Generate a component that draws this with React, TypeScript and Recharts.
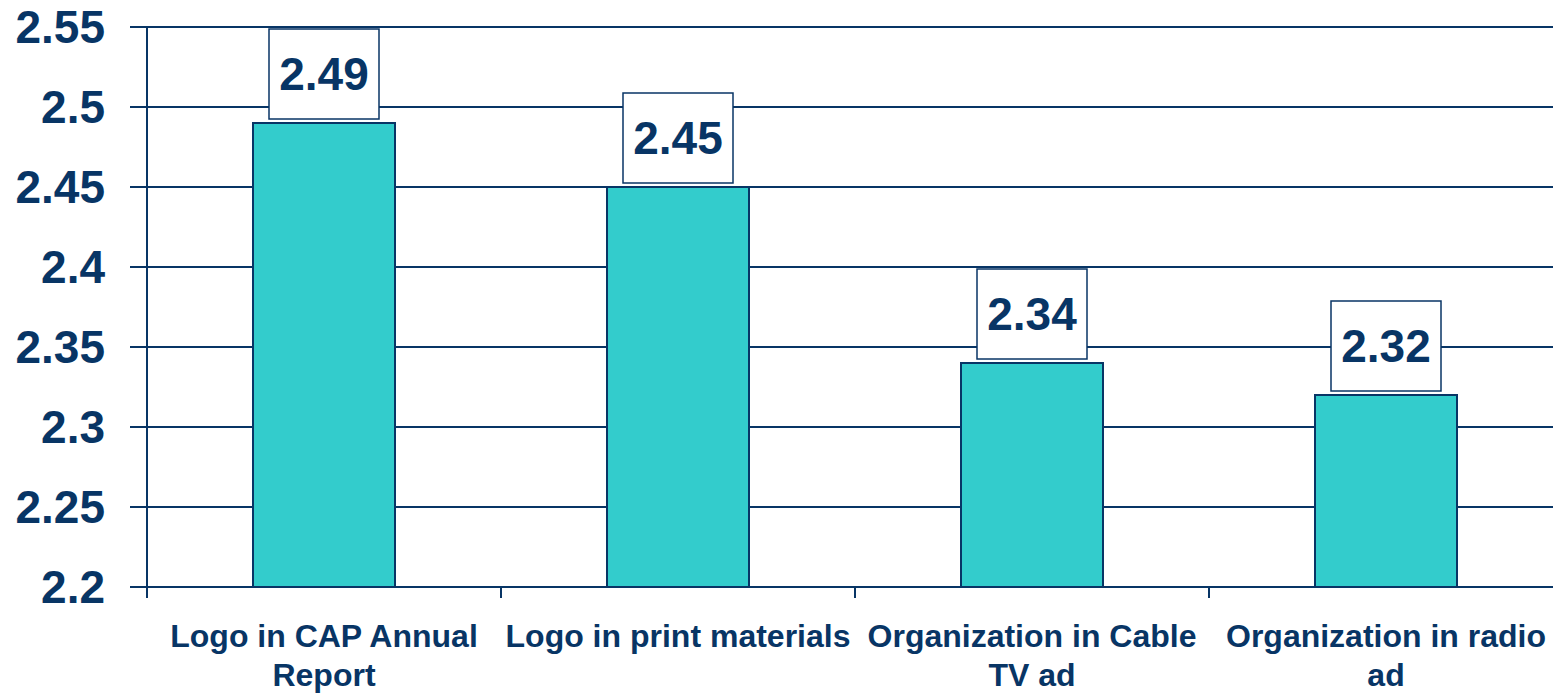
import { BarChart, Bar, XAxis, YAxis, CartesianGrid, LabelList } from 'recharts'

const categories = [
  'Logo in CAP Annual Report',
  'Logo in print materials',
  'Organization in Cable TV ad',
  'Organization in radio ad'
]
const tickLines = [
  ['Logo in CAP Annual', 'Report'],
  ['Logo in print materials'],
  ['Organization in Cable', 'TV ad'],
  ['Organization in radio', 'ad']
]
const scores = [2.49, 2.45, 2.34, 2.32]
const yTicks = [2.2, 2.25, 2.3, 2.35, 2.4, 2.45, 2.5, 2.55]

const NAVY = '#083565'
const TEAL = '#33CCCC'
const FONT = '"Liberation Sans", Arial, sans-serif'

const data = categories.map((name, i) => ({ name, value: scores[i] }))

const CategoryTick = (props: any) => {
  const { x, y, index, width, visibleTicksCount } = props
  const band = width && visibleTicksCount ? width / visibleTicksCount : 354
  const lines = tickLines[index] || [props.payload.value]
  const left = x - band / 2
  return (
    <g>
      <line x1={left} x2={left} y1={y} y2={y + 11} stroke={NAVY} strokeWidth={2} />
      {index === categories.length - 1 && (
        <line x1={x + band / 2} x2={x + band / 2} y1={y} y2={y + 11} stroke={NAVY} strokeWidth={2} />
      )}
      {lines.map((line: string, i: number) => (
        <text
          key={i}
          x={x}
          y={y + 60 + i * 39}
          textAnchor="middle"
          fill={NAVY}
          fontFamily={FONT}
          fontWeight="bold"
          fontSize={32}
        >
          {line}
        </text>
      ))}
    </g>
  )
}

const ValueBox = (props: any) => {
  const { x, y, width, value } = props
  const cx = x + width / 2
  return (
    <g>
      <rect x={cx - 55} y={y - 94} width={110} height={90} fill="#fff" stroke={NAVY} strokeWidth={1.5} />
      <text
        x={cx}
        y={y - 49}
        textAnchor="middle"
        dominantBaseline="central"
        fill={NAVY}
        fontFamily={FONT}
        fontWeight="bold"
        fontSize={46}
      >
        {value}
      </text>
    </g>
  )
}

export default function App() {
  return (
    <div style={{ position: 'fixed', left: 0, top: 0, width: 1553, height: 694, overflow: 'hidden', background: '#fff' }}>
      <BarChart width={1600} height={694} data={data} margin={{ top: 27, right: 37, bottom: 0, left: 0 }}>
        <CartesianGrid vertical={false} stroke={NAVY} strokeWidth={2} />
        <XAxis
          dataKey="name"
          height={107}
          axisLine={{ stroke: NAVY, strokeWidth: 2 }}
          tickLine={false}
          tickSize={0}
          tickMargin={0}
          interval={0}
          tick={<CategoryTick />}
        />
        <YAxis
          width={147}
          domain={[2.2, 2.55]}
          ticks={yTicks}
          allowDataOverflow
          axisLine={{ stroke: NAVY, strokeWidth: 2 }}
          tickLine={{ stroke: NAVY, strokeWidth: 2 }}
          tickSize={17}
          tickMargin={25}
          tick={{ fill: NAVY, fontFamily: FONT, fontWeight: 'bold', fontSize: 46 }}
        />
        <Bar dataKey="value" fill={TEAL} stroke={NAVY} strokeWidth={2} barSize={142} isAnimationActive={false}>
          <LabelList dataKey="value" content={<ValueBox />} />
        </Bar>
      </BarChart>
    </div>
  )
}
